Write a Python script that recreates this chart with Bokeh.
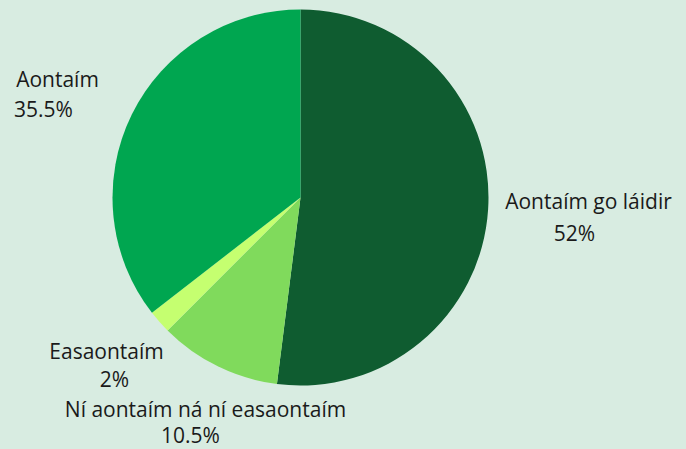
import numpy as np
from bokeh.plotting import figure
from bokeh.models import Range1d, ColumnDataSource
from bokeh.core.properties import value
from bokeh.embed import file_html
from bokeh.resources import INLINE

categories = ["Aontaím go láidir", "Ní aontaím ná ní easaontaím", "Easaontaím", "Aontaím"]
percents = [52.0, 10.5, 2.0, 35.5]
pct_labels = ["52%", "10.5%", "2%", "35.5%"]
colors = ["#0F5C30", "#80DA5C", "#C5FF70", "#00A650"]

BG = "#D8ECE1"
W, H = 686, 449

p = figure(width=W, height=H, output_backend="svg", toolbar_location=None,
           x_range=Range1d(0, W), y_range=Range1d(0, H), min_border=0)
p.axis.visible = False
p.grid.visible = False
p.outline_line_color = None
p.background_fill_color = BG
p.border_fill_color = BG

def sx(x):
    return x
def sy(y):
    return H - y

vals = np.array(percents)
ang = vals / vals.sum() * 2 * np.pi
ends = np.pi / 2 - np.cumsum(ang)
starts = ends + ang

src = ColumnDataSource(dict(start=starts, end=ends, color=colors))
p.wedge(x=sx(300), y=sy(197), radius=188, radius_units="screen",
        start_angle="start", end_angle="end", direction="clock",
        fill_color="color", line_color=None, source=src)

name_pos = [(588, 200), (205, 408), (106, 350), (57, 78)]
pct_pos = [(574, 232), (190, 434), (114, 378), (43, 108)]

lx = [sx(x) for x, _ in name_pos] + [sx(x) for x, _ in pct_pos]
ly = [sy(y) for _, y in name_pos] + [sy(y) for _, y in pct_pos]
lt = list(categories) + list(pct_labels)
p.text(x=lx, y=ly, text=lt, text_font=value("Open Sans"), text_font_size="21px",
       text_align="center", text_baseline="middle", text_color="#1A1A1A")

html = file_html(p, INLINE)
html = html.replace("</head>", "<style>html,body{background:%s;margin:0;padding:0;overflow:hidden;}</style></head>" % BG, 1)
open("out.html", "w").write(html)
